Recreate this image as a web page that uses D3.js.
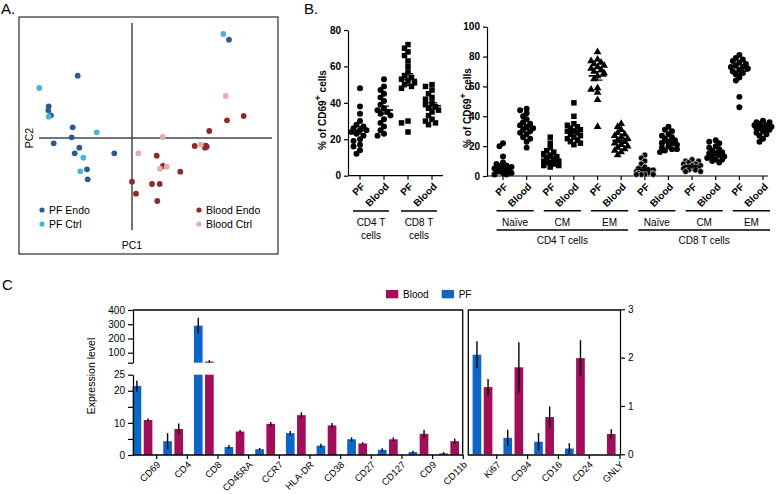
<!DOCTYPE html>
<html lang="en">
<head>
<meta charset="UTF-8">
<title>PF vs Blood T cells</title>
<script src="https://cdn.jsdelivr.net/npm/d3@7"></script>
<style>
  body { margin: 0; background: #fff; }
  svg { font-family: "Liberation Sans", Arial, sans-serif; display: block; }
  .ax path, .ax line { stroke: #000; stroke-width: 1.2; }
  .ax text { fill: #000; font-size: 10px; }
  .bold text { font-weight: bold; }
</style>
</head>
<body>
<svg id="fig" width="778" height="494"></svg>
<script>
// ---- A: PCA scores [PC1, PC2]
const pfEndo = [[-5.43,6.23],[9.7,9.83],[-8.33,3.17],[-8.37,2.77],[-8.1,2.27],[-5.93,1.07],[-6.03,0.07],
  [-7.83,-0.53],[-5.27,-0.97],[-5.73,-1.53],[-1.77,-1.53],[-4.5,-3.13],[-4.43,-4.13]];
const pfCtrl = [[-9.27,5.0],[9.13,10.4],[-8.33,2.13],[-3.53,0.57],[-4.87,-1.97],[-5.17,-3.33]];
const bloodEndo = [[11.17,2.2],[9.5,1.77],[7.73,0.7],[6.27,-0.8],[7.37,-0.77],[7.47,-0.87],[7.3,-0.97],
  [2.47,-1.77],[3.1,-2.8],[4.83,-3.37],[0,-4.37],[2.0,-4.6],[2.77,-4.6],[0.4,-5.57],[2.53,-6.3]];
const bloodCtrl = [[9.37,4.2],[3.07,0.1],[6.87,-0.67],[0.63,-1.53],[2.8,-3.07],[3.47,-2.87]];

// ---- B left: % CD69+ cells
const cd4Pf    = [48,38,34,30,28,27,26,25,25,24,23,22,20,19,17,16,14,12];
const cd4Blood = [53,49,47,45,43,41,39,37,36,35,34,33,31,29,27,25,23,22];
const cd8Pf    = [72,70,68,66,63,60,57,55,54,53,52,51,50,49,48,30,29,24];
const cd8Blood = [50,49,47,45,43,42,40,39,38,37,36,35,33,31,30,29,28];

// ---- B right: % CD69+ cells by subset
const cd4NaivePf    = [22,20,13,9,8,7,6,6,5,5,4,4,3,3,2,2,1,1];
const cd4NaiveBlood = [45,44,42,40,38,36,35,34,33,32,31,30,29,28,26,25,23,19];
const cd4CmPf       = [26,22,19,17,16,15,14,13,12,11,10,10,9,9,8,7,7,6];
const cd4CmBlood    = [49,40,35,34,33,32,31,30,30,29,28,27,26,25,24,23,22,21];
const cd4EmPf       = [83,78,77,76,75,74,73,72,71,70,69,67,65,59,58,56,51,33];
const cd4EmBlood    = [35,33,31,29,28,27,26,25,24,23,22,21,20,19,18,17,16,14];
const cd8NaivePf    = [14,12,10,8,6,5,4,4,3,3,3,2,2,2,1,1,1,1];
const cd8NaiveBlood = [33,31,30,28,27,26,25,24,23,22,22,21,20,19,18,18,17,16];
const cd8CmPf       = [11,10,10,9,8,8,7,7,6,6,6,5,5,5,4,4,3,3];
const cd8CmBlood    = [24,23,22,20,19,18,17,16,15,15,14,13,13,12,11,11,10,9];
const cd8EmPf       = [81,79,78,77,76,75,74,73,73,72,71,70,69,68,66,64,53,46];
const cd8EmBlood    = [37,36,36,35,34,34,33,33,32,32,31,31,30,29,28,27,25,23];

// ---- C: expression level (mean, SEM)
const markersMain = ["CD69","CD4","CD8","CD45RA","CCR7","HLA-DR","CD38","CD27","CD127","CD9","CD11b"];
const pfMain      = [21.5,4.3,290,2.5,1.8,6.8,2.9,4.9,1.6,0.9,0.5];
const pfMainErr   = [1.7,2.5,55,0.6,0.4,0.7,0.6,0.6,0.5,0.4,0.4];
const bloodMain   = [10.9,8.1,38,7.3,9.7,12.4,9.2,3.6,4.9,6.6,4.3];
const bloodMainErr= [0.5,1.7,10,0.5,0.6,0.9,0.8,0.4,0.6,1.3,0.8];
const markersSide = ["Ki67","CD94","CD16","CD24","GNLY"];
const pfSide      = [2.06,0.34,0.26,0.12,0];
const pfSideErr   = [0.28,0.17,0.18,0.11,0];
const bloodSide   = [1.39,1.8,0.77,1.99,0.42];
const bloodSideErr= [0.17,0.52,0.22,0.37,0.1];

const svg = d3.select("#fig");
const PF_COL = "#0e65c8", BL_COL = "#a00d5a";

function panelLetter(t, x, y) {
  svg.append("text").attr("x", x).attr("y", y).attr("font-size", 15).text(t);
}

// ================= Panel A =================
panelLetter("A.", 1, 14);
svg.append("rect").attr("x", 19).attr("y", 17).attr("width", 259).attr("height", 237)
  .attr("fill", "none").attr("stroke", "#000").attr("stroke-width", 1);
const xA = d3.scaleLinear().domain([-10, 10]).range([32, 232]);
const yA = d3.scaleLinear().domain([-10, 10]).range([238, 38]);
svg.append("line").attr("x1", xA(0)).attr("x2", xA(0)).attr("y1", 23).attr("y2", 230)
  .attr("stroke", "#444").attr("stroke-width", 1.5);
svg.append("line").attr("x1", 39).attr("x2", 272).attr("y1", yA(0)).attr("y2", yA(0))
  .attr("stroke", "#444").attr("stroke-width", 1.5);
svg.append("text").attr("x", xA(0)).attr("y", 249).attr("text-anchor", "middle").attr("font-size", 10.5).text("PC1");
svg.append("text").attr("transform", `translate(33,${yA(0)}) rotate(-90)`).attr("text-anchor", "middle")
  .attr("font-size", 10.5).text("PC2");

const groupsA = [
  {name: "PF Endo", pts: pfEndo, col: "#2e5b8f", lx: 42, ly: 210},
  {name: "PF Ctrl", pts: pfCtrl, col: "#4db4d7", lx: 42, ly: 224},
  {name: "Blood Endo", pts: bloodEndo, col: "#8e2a2d", lx: 199, ly: 210},
  {name: "Blood Ctrl", pts: bloodCtrl, col: "#e6abad", lx: 199, ly: 224}
];
groupsA.forEach(g => {
  svg.append("g").selectAll("circle").data(g.pts).enter().append("circle")
    .attr("cx", d => xA(d[0])).attr("cy", d => yA(d[1])).attr("r", 2.9).attr("fill", g.col);
  svg.append("circle").attr("cx", g.lx).attr("cy", g.ly).attr("r", 2.6).attr("fill", g.col);
  svg.append("text").attr("x", g.lx + 7).attr("y", g.ly + 4).attr("font-size", 10.5).text(g.name);
});

// ================= Panel B helpers =================
function swarm(vals, y, minD) {
  const pts = vals.map(v => ({v: v, y: y(v)})).sort((a, b) => a.y - b.y);
  const offs = [0, -3.5, 3.5, -6.5, 6.5, -8.5, 8.5];
  const placed = [];
  pts.forEach(p => {
    let best = 0, bestD = -1;
    for (const o of offs) {
      let dmin = Infinity;
      placed.forEach(q => { const d = Math.hypot(q.dx - o, q.y - p.y); if (d < dmin) dmin = d; });
      if (dmin >= minD) { best = o; break; }
      if (dmin > bestD) { bestD = dmin; best = o; }
    }
    p.dx = best; placed.push(p);
  });
  return pts;
}
const shapes = {circle: d3.symbol().type(d3.symbolCircle).size(28),
  square: d3.symbol().type(d3.symbolSquare).size(30),
  triangle: d3.symbol().type(d3.symbolTriangle).size(26)};

function drawGroup(g, cx, vals, y, shape, outline) {
  const pts = swarm(vals, y, 4.2);
  g.append("g").selectAll("path").data(pts).enter().append("path")
    .attr("d", shapes[shape]).attr("transform", d => `translate(${cx + d.dx},${d.y})`)
    .attr("fill", "#000").attr("stroke", outline ? "#fff" : "none").attr("stroke-width", 0.6);
  const m = d3.mean(vals), sem = d3.deviation(vals) / Math.sqrt(vals.length);
  g.append("line").attr("x1", cx - 9).attr("x2", cx + 9).attr("y1", y(m)).attr("y2", y(m))
    .attr("stroke", "#000").attr("stroke-width", 1.6);
  g.append("line").attr("x1", cx).attr("x2", cx).attr("y1", y(m - sem)).attr("y2", y(m + sem))
    .attr("stroke", "#000").attr("stroke-width", 1.2);
  [m - sem, m + sem].forEach(v => g.append("line").attr("x1", cx - 5).attr("x2", cx + 5)
    .attr("y1", y(v)).attr("y2", y(v)).attr("stroke", "#000").attr("stroke-width", 1.2));
}

function catLabels(g, x, cats, yAxis) {
  g.append("g").selectAll("text").data(cats).enter().append("text")
    .attr("transform", d => `translate(${x(d.key) + 3},${yAxis + 9}) rotate(-45)`)
    .attr("text-anchor", "end").attr("dy", "0.35em")
    .attr("font-size", 10).attr("font-weight", "bold").text(d => d.lab);
}

function yLabelB(x, y) {
  const t = svg.append("text").attr("transform", `translate(${x},${y}) rotate(-90)`)
    .attr("text-anchor", "middle").attr("font-size", 10).attr("font-weight", "bold");
  t.append("tspan").text("% of CD69");
  t.append("tspan").attr("baseline-shift", "super").attr("font-size", 9).text("+");
  t.append("tspan").text(" cells");
}

// ================= Panel B left =================
panelLetter("B.", 304, 14);
const bL = svg.append("g");
const yBL = d3.scaleLinear().domain([0, 80]).range([175.7, 30]);
const leftCats = [
  {key: "cd4pf", lab: "PF", vals: cd4Pf, shape: "circle"},
  {key: "cd4bl", lab: "Blood", vals: cd4Blood, shape: "circle"},
  {key: "cd8pf", lab: "PF", vals: cd8Pf, shape: "square"},
  {key: "cd8bl", lab: "Blood", vals: cd8Blood, shape: "square"}
];
const xBL = d3.scalePoint().domain(leftCats.map(d => d.key)).range([360, 432]);
bL.append("g").attr("class", "ax bold").attr("transform", "translate(348,0)")
  .call(d3.axisLeft(yBL).tickValues([0, 20, 40, 60, 80]).tickSize(4).tickSizeOuter(0));
bL.append("line").attr("x1", 348).attr("x2", 443).attr("y1", 175.7).attr("y2", 175.7)
  .attr("stroke", "#000").attr("stroke-width", 1.2);
leftCats.forEach(c => {
  bL.append("line").attr("x1", xBL(c.key)).attr("x2", xBL(c.key)).attr("y1", 175.7).attr("y2", 179.7)
    .attr("stroke", "#000").attr("stroke-width", 1.2);
  drawGroup(bL, xBL(c.key), c.vals, yBL, c.shape, false);
});
catLabels(bL, xBL, leftCats, 175.7);
[["cd4pf", "cd4bl", "CD4 T"], ["cd8pf", "cd8bl", "CD8 T"]].forEach(([a, b, lab]) => {
  const x1 = xBL(a) - 7, x2 = xBL(b) + 5;
  bL.append("line").attr("x1", x1).attr("x2", x2).attr("y1", 211).attr("y2", 211)
    .attr("stroke", "#000").attr("stroke-width", 1.4);
  bL.append("text").attr("x", (x1 + x2) / 2).attr("y", 226).attr("text-anchor", "middle").attr("font-size", 10).text(lab);
  bL.append("text").attr("x", (x1 + x2) / 2).attr("y", 239).attr("text-anchor", "middle").attr("font-size", 10).text("cells");
});
yLabelB(326, 110);

// ================= Panel B right =================
const bR = svg.append("g");
const yBR = d3.scaleLinear().domain([0, 100]).range([176, 26.7]);
const rightCats = [
  {key: "a1", lab: "PF", vals: cd4NaivePf, shape: "circle"},
  {key: "a2", lab: "Blood", vals: cd4NaiveBlood, shape: "circle"},
  {key: "a3", lab: "PF", vals: cd4CmPf, shape: "square"},
  {key: "a4", lab: "Blood", vals: cd4CmBlood, shape: "square"},
  {key: "a5", lab: "PF", vals: cd4EmPf, shape: "triangle"},
  {key: "a6", lab: "Blood", vals: cd4EmBlood, shape: "triangle"},
  {key: "b1", lab: "PF", vals: cd8NaivePf, shape: "circle", outline: true},
  {key: "b2", lab: "Blood", vals: cd8NaiveBlood, shape: "circle"},
  {key: "b3", lab: "PF", vals: cd8CmPf, shape: "circle", outline: true},
  {key: "b4", lab: "Blood", vals: cd8CmBlood, shape: "circle"},
  {key: "b5", lab: "PF", vals: cd8EmPf, shape: "circle"},
  {key: "b6", lab: "Blood", vals: cd8EmBlood, shape: "circle"}
];
const subsets = ["Naïve", "CM", "EM", "Naïve", "CM", "EM"];
const cellGroups = ["CD4 T cells", "CD8 T cells"];
const xBR = d3.scalePoint().domain(rightCats.map(d => d.key)).range([503, 763]);
bR.append("g").attr("class", "ax bold").attr("transform", "translate(487,0)")
  .call(d3.axisLeft(yBR).tickValues([0, 20, 40, 60, 80, 100]).tickSize(4).tickSizeOuter(0));
bR.append("line").attr("x1", 487).attr("x2", 768).attr("y1", 176).attr("y2", 176)
  .attr("stroke", "#000").attr("stroke-width", 1.2);
rightCats.forEach(c => {
  bR.append("line").attr("x1", xBR(c.key)).attr("x2", xBR(c.key)).attr("y1", 176).attr("y2", 180)
    .attr("stroke", "#000").attr("stroke-width", 1.2);
  drawGroup(bR, xBR(c.key), c.vals, yBR, c.shape, c.outline);
});
catLabels(bR, xBR, rightCats, 176);
subsets.forEach((s, i) => {
  const x1 = xBR(rightCats[2 * i].key) - 6.5, x2 = xBR(rightCats[2 * i + 1].key) + 7;
  bR.append("line").attr("x1", x1).attr("x2", x2).attr("y1", 210.7).attr("y2", 210.7)
    .attr("stroke", "#000").attr("stroke-width", 1.4);
  bR.append("text").attr("x", (x1 + x2) / 2).attr("y", 225.5).attr("text-anchor", "middle").attr("font-size", 10).text(s);
});
cellGroups.forEach((s, i) => {
  const x1 = xBR(rightCats[6 * i].key) - 6.5, x2 = xBR(rightCats[6 * i + 5].key) + 7;
  bR.append("line").attr("x1", x1).attr("x2", x2).attr("y1", 230).attr("y2", 230)
    .attr("stroke", "#000").attr("stroke-width", 1.4);
  bR.append("text").attr("x", (x1 + x2) / 2).attr("y", 244).attr("text-anchor", "middle").attr("font-size", 10).text(s);
});
yLabelB(471, 108);

// ================= Panel C =================
panelLetter("C", 2, 290);
const cG = svg.append("g");
const yLow = d3.scaleLinear().domain([0, 25]).range([455, 374.7]);
const yTop = d3.scaleLinear().domain([30, 400]).range([362.7, 310]);
const yR = d3.scaleLinear().domain([0, 3]).range([454.3, 309.3]);
const xMain = d3.scaleBand().domain(markersMain).range([127, 464.3]);
const xSide = d3.scaleBand().domain(markersSide).range([467, 621]);
const sub = d3.scaleBand().domain(["PF", "Blood"]).range([5.6, 25.4]).paddingInner(0.22);

// legend
[["Blood", BL_COL, 386], ["PF", PF_COL, 441.7]].forEach(([t, c, x]) => {
  cG.append("rect").attr("x", x).attr("y", 290).attr("width", 12.3).attr("height", 8.3).attr("fill", c);
  cG.append("text").attr("x", x + 17).attr("y", 297.5).attr("font-size", 10).text(t);
});

// main (broken axis) bars
const mainRows = markersMain.map((m, i) => ({m, PF: [pfMain[i], pfMainErr[i]], Blood: [bloodMain[i], bloodMainErr[i]]}));
mainRows.forEach(r => {
  ["PF", "Blood"].forEach(k => {
    const [v, e] = r[k];
    const x = xMain(r.m) + sub(k), w = sub.bandwidth(), col = k === "PF" ? PF_COL : BL_COL;
    if (v <= 25) {
      cG.append("rect").attr("x", x).attr("y", yLow(v)).attr("width", w).attr("height", yLow(0) - yLow(v)).attr("fill", col);
      cG.append("line").attr("x1", x + w / 2).attr("x2", x + w / 2).attr("y1", yLow(Math.max(0, v - e))).attr("y2", yLow(v + e))
        .attr("stroke", "#000").attr("stroke-width", 1.4);
    } else {
      cG.append("rect").attr("x", x).attr("y", yLow(25)).attr("width", w).attr("height", yLow(0) - yLow(25)).attr("fill", col);
      cG.append("rect").attr("x", x).attr("y", yTop(v)).attr("width", w).attr("height", yTop(30) - yTop(v)).attr("fill", col);
      cG.append("line").attr("x1", x + w / 2).attr("x2", x + w / 2).attr("y1", yTop(Math.max(30, v - e))).attr("y2", yTop(v + e))
        .attr("stroke", "#000").attr("stroke-width", 1.4);
    }
  });
});

// side bars (right axis)
const sideRows = markersSide.map((m, i) => ({m, PF: [pfSide[i], pfSideErr[i]], Blood: [bloodSide[i], bloodSideErr[i]]}));
sideRows.forEach(r => {
  ["PF", "Blood"].forEach(k => {
    const [v, e] = r[k];
    if (v <= 0) return;
    const x = xSide(r.m) + sub(k), w = sub.bandwidth(), col = k === "PF" ? PF_COL : BL_COL;
    cG.append("rect").attr("x", x).attr("y", yR(v)).attr("width", w).attr("height", yR(0) - yR(v)).attr("fill", col);
    cG.append("line").attr("x1", x + w / 2).attr("x2", x + w / 2).attr("y1", yR(Math.max(0, v - e))).attr("y2", yR(v + e))
      .attr("stroke", "#000").attr("stroke-width", 1.4);
  });
});

// axes
cG.append("g").attr("class", "ax").attr("transform", "translate(133,0)")
  .call(d3.axisLeft(yLow).tickValues([0, 5, 10, 15, 20, 25]).tickSize(5).tickSizeOuter(0)
    .tickFormat(d => (d === 5 || d === 15) ? "" : d));
cG.append("g").attr("class", "ax").attr("transform", "translate(133,0)")
  .call(d3.axisLeft(yTop).tickValues([30, 100, 200, 300, 400]).tickSize(5).tickSizeOuter(0)
    .tickFormat(d => d === 30 ? "" : d));
cG.append("g").attr("class", "ax").attr("transform", "translate(620,0)")
  .call(d3.axisRight(yR).tickValues([0, 1, 2, 3]).tickSize(5).tickSizeOuter(0).tickFormat(d3.format("d")));

function bottomAxis(x, y0) {
  const a = cG.append("g").attr("class", "ax").attr("transform", `translate(0,${y0})`)
    .call(d3.axisBottom(x).tickSize(4).tickSizeOuter(0));
  a.select(".domain").remove();
  a.selectAll(".tick line").attr("transform", `translate(${x.bandwidth() / 2 - 1},0)`);
  a.selectAll(".tick text").attr("x", 0).attr("y", 0).attr("dy", "0.35em").attr("text-anchor", "end")
    .style("font-size", "9.5px")
    .attr("transform", `translate(${x.bandwidth() / 2 + 1},8) rotate(-45)`);
}
bottomAxis(xMain, 455);
bottomAxis(xSide, 455);

// boxes
const box = (pts) => cG.append("path").attr("d", d3.line()(pts)).attr("fill", "none")
  .attr("stroke", "#000").attr("stroke-width", 1.3);
box([[133, 455], [462.7, 455], [462.7, 310], [133, 310]]);
box([[620, 455], [468.3, 455], [468.3, 310], [620, 310]]);

svg.append("text").attr("transform", "translate(95,376) rotate(-90)").attr("text-anchor", "middle")
  .attr("font-size", 10.5).text("Expression level");
</script>
</body>
</html>
